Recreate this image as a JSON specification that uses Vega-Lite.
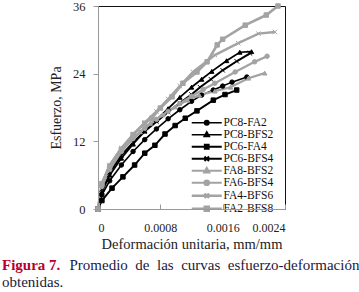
{
  "$schema": "https://vega.github.io/schema/vega-lite/v6.json",
  "autosize": "none",
  "width": 187,
  "height": 203,
  "padding": {"left": 98, "top": 6, "right": 74, "bottom": 83},
  "background": "white",
  "config": {
    "view": {"stroke": "#111", "strokeWidth": 1},
    "font": "Liberation Serif",
    "legend": {"orient": "none", "legendX": 103, "legendY": 111, "title": null, "padding": 0,
      "labelFont": "Liberation Serif", "labelFontSize": 11.5, "labelColor": "#111",
      "symbolSize": 25, "labelOffset": 11, "rowPadding": -5.3}
  },
  "title": {
    "text": "Figura 7.",
    "subtitle": ["\u200b\u00a0\u00a0\u00a0\u00a0\u00a0\u00a0\u00a0\u00a0\u00a0\u00a0\u00a0\u00a0\u00a0\u00a0\u00a0\u00a0\u00a0\u00a0Promedio \u00a0de \u00a0las \u00a0curvas \u00a0esfuerzo-deformación", "obtenidas."],
    "orient": "bottom",
    "anchor": "start",
    "frame": "group",
    "dx": -96,
    "offset": 7,
    "font": "Liberation Serif",
    "fontSize": 15,
    "fontWeight": "bold",
    "color": "#b8002a",
    "subtitleFont": "Liberation Serif",
    "subtitleFontSize": 15,
    "subtitleFontWeight": "normal",
    "subtitleColor": "#1a1a3c",
    "subtitleLineHeight": 17.5,
    "subtitlePadding": -15
  },
  "data": {"values": [
    {"s":"PC8-FA2","x":0,"y":0},{"s":"PC8-FA2","x":0.00005,"y":2.5},{"s":"PC8-FA2","x":0.00015,"y":5},{"s":"PC8-FA2","x":0.0003,"y":7.8},{"s":"PC8-FA2","x":0.00045,"y":10.2},{"s":"PC8-FA2","x":0.0006,"y":12.3},{"s":"PC8-FA2","x":0.00075,"y":14.2},{"s":"PC8-FA2","x":0.0009,"y":16},{"s":"PC8-FA2","x":0.00105,"y":17.6},{"s":"PC8-FA2","x":0.0012,"y":19.1},{"s":"PC8-FA2","x":0.00133,"y":20.2},{"s":"PC8-FA2","x":0.00148,"y":21.1},{"s":"PC8-FA2","x":0.0016,"y":21.8},{"s":"PC8-FA2","x":0.00172,"y":22.5},{"s":"PC8-FA2","x":0.00191,"y":23.4},
    {"s":"PC8-BFS2","x":0,"y":0},{"s":"PC8-BFS2","x":0.00005,"y":3},{"s":"PC8-BFS2","x":0.00015,"y":6},{"s":"PC8-BFS2","x":0.0003,"y":9},{"s":"PC8-BFS2","x":0.00045,"y":11.5},{"s":"PC8-BFS2","x":0.0006,"y":13.8},{"s":"PC8-BFS2","x":0.00075,"y":15.8},{"s":"PC8-BFS2","x":0.0009,"y":17.8},{"s":"PC8-BFS2","x":0.00105,"y":19.8},{"s":"PC8-BFS2","x":0.0012,"y":21.6},{"s":"PC8-BFS2","x":0.00133,"y":23},{"s":"PC8-BFS2","x":0.00146,"y":24.4},{"s":"PC8-BFS2","x":0.00165,"y":26.3},{"s":"PC8-BFS2","x":0.00182,"y":27.8},{"s":"PC8-BFS2","x":0.00197,"y":27.9},
    {"s":"PC6-FA4","x":0,"y":0},{"s":"PC6-FA4","x":0.00005,"y":1.5},{"s":"PC6-FA4","x":0.00018,"y":3.7},{"s":"PC6-FA4","x":0.00032,"y":5.7},{"s":"PC6-FA4","x":0.00047,"y":7.8},{"s":"PC6-FA4","x":0.0006,"y":9.9},{"s":"PC6-FA4","x":0.00073,"y":11.3},{"s":"PC6-FA4","x":0.00086,"y":13.3},{"s":"PC6-FA4","x":0.00099,"y":14.8},{"s":"PC6-FA4","x":0.00112,"y":16.1},{"s":"PC6-FA4","x":0.00127,"y":17.4},{"s":"PC6-FA4","x":0.00148,"y":19.3},{"s":"PC6-FA4","x":0.00163,"y":20.3},{"s":"PC6-FA4","x":0.00178,"y":21.1},
    {"s":"PC6-BFS4","x":0,"y":0},{"s":"PC6-BFS4","x":0.00005,"y":3.5},{"s":"PC6-BFS4","x":0.00015,"y":6.5},{"s":"PC6-BFS4","x":0.0003,"y":9.5},{"s":"PC6-BFS4","x":0.00045,"y":11.8},{"s":"PC6-BFS4","x":0.0006,"y":13.8},{"s":"PC6-BFS4","x":0.00075,"y":15.5},{"s":"PC6-BFS4","x":0.0009,"y":17.2},{"s":"PC6-BFS4","x":0.00105,"y":18.8},{"s":"PC6-BFS4","x":0.0012,"y":20.3},{"s":"PC6-BFS4","x":0.00131,"y":21.6},{"s":"PC6-BFS4","x":0.00145,"y":23},{"s":"PC6-BFS4","x":0.0016,"y":24.6},{"s":"PC6-BFS4","x":0.00178,"y":26.2},{"s":"PC6-BFS4","x":0.00195,"y":27.6},
    {"s":"FA8-BFS2","x":0,"y":0},{"s":"FA8-BFS2","x":0.00005,"y":4.6},{"s":"FA8-BFS2","x":0.00015,"y":7.8},{"s":"FA8-BFS2","x":0.00026,"y":9.9},{"s":"FA8-BFS2","x":0.00041,"y":12.2},{"s":"FA8-BFS2","x":0.00054,"y":13.7},{"s":"FA8-BFS2","x":0.00067,"y":15.2},{"s":"FA8-BFS2","x":0.00083,"y":16.7},{"s":"FA8-BFS2","x":0.00099,"y":18.1},{"s":"FA8-BFS2","x":0.00115,"y":19.3},{"s":"FA8-BFS2","x":0.0013,"y":20.2},{"s":"FA8-BFS2","x":0.0015,"y":20.9},{"s":"FA8-BFS2","x":0.0017,"y":21.6},{"s":"FA8-BFS2","x":0.00193,"y":23.2},{"s":"FA8-BFS2","x":0.00214,"y":24.1},
    {"s":"FA6-BFS4","x":0,"y":0},{"s":"FA6-BFS4","x":0.00005,"y":4},{"s":"FA6-BFS4","x":0.00015,"y":7},{"s":"FA6-BFS4","x":0.0003,"y":10.2},{"s":"FA6-BFS4","x":0.00045,"y":12.5},{"s":"FA6-BFS4","x":0.0006,"y":14.3},{"s":"FA6-BFS4","x":0.00075,"y":15.9},{"s":"FA6-BFS4","x":0.0009,"y":17.3},{"s":"FA6-BFS4","x":0.00105,"y":18.7},{"s":"FA6-BFS4","x":0.0012,"y":20},{"s":"FA6-BFS4","x":0.00135,"y":21.2},{"s":"FA6-BFS4","x":0.0015,"y":22.3},{"s":"FA6-BFS4","x":0.00176,"y":24.3},{"s":"FA6-BFS4","x":0.00201,"y":26.1},{"s":"FA6-BFS4","x":0.00217,"y":27.1},
    {"s":"FA4-BFS6","x":0,"y":0},{"s":"FA4-BFS6","x":0.00005,"y":4.5},{"s":"FA4-BFS6","x":0.00015,"y":7.8},{"s":"FA4-BFS6","x":0.0003,"y":10.8},{"s":"FA4-BFS6","x":0.00045,"y":13.2},{"s":"FA4-BFS6","x":0.0006,"y":15.3},{"s":"FA4-BFS6","x":0.00075,"y":17.3},{"s":"FA4-BFS6","x":0.0009,"y":19.5},{"s":"FA4-BFS6","x":0.00105,"y":21.8},{"s":"FA4-BFS6","x":0.00122,"y":24.3},{"s":"FA4-BFS6","x":0.0015,"y":27.3},{"s":"FA4-BFS6","x":0.0018,"y":29.4},{"s":"FA4-BFS6","x":0.00206,"y":31.1},{"s":"FA4-BFS6","x":0.00227,"y":31.4},
    {"s":"FA2-BFS8","x":0,"y":0},{"s":"FA2-BFS8","x":0.00005,"y":4.5},{"s":"FA2-BFS8","x":0.00015,"y":7.6},{"s":"FA2-BFS8","x":0.0003,"y":10.6},{"s":"FA2-BFS8","x":0.00045,"y":13.2},{"s":"FA2-BFS8","x":0.0006,"y":15.2},{"s":"FA2-BFS8","x":0.00069,"y":16.1},{"s":"FA2-BFS8","x":0.0008,"y":17.9},{"s":"FA2-BFS8","x":0.00095,"y":19.9},{"s":"FA2-BFS8","x":0.00109,"y":22.3},{"s":"FA2-BFS8","x":0.00127,"y":24.3},{"s":"FA2-BFS8","x":0.0014,"y":26.1},{"s":"FA2-BFS8","x":0.00153,"y":29.1},{"s":"FA2-BFS8","x":0.0016,"y":30.1},{"s":"FA2-BFS8","x":0.00189,"y":32.6},{"s":"FA2-BFS8","x":0.00216,"y":34.4},{"s":"FA2-BFS8","x":0.00231,"y":36}
  ]},
  "encoding": {
    "x": {"field": "x", "type": "quantitative",
      "scale": {"domain": [0, 0.0024], "nice": false, "zero": false},
      "axis": {"title": "Deformación unitaria, mm/mm", "values": [0, 0.0008, 0.0016, 0.0024], "format": "~g",
        "grid": false, "domainColor": "#999", "tickColor": "#999", "tickSize": -5, "labelPadding": 18,
        "labelFont": "Liberation Serif", "labelFontSize": 12, "labelColor": "#222",
        "titleFont": "Liberation Serif", "titleFontSize": 14.5, "titleFontWeight": "normal", "titleColor": "#222", "titlePadding": 4, "zindex": 1}},
    "y": {"field": "y", "type": "quantitative",
      "scale": {"domain": [0, 36], "nice": false},
      "axis": {"title": "Esfuerzo, MPa", "values": [0, 12, 24, 36], "grid": false,
        "domainColor": "#999", "tickColor": "#999", "tickSize": 5, "labelPadding": 8,
        "labelFont": "Liberation Serif", "labelFontSize": 12.5, "labelColor": "#222",
        "titleFont": "Liberation Serif", "titleFontSize": 14, "titleFontWeight": "normal", "titleColor": "#222", "titlePadding": 9, "zindex": 1}}
  },
  "resolve": {"scale": {"color": "independent", "shape": "independent", "stroke": "independent", "strokeWidth": "independent"}},
  "layer": [
    {
      "mark": {"type": "line"},
      "encoding": {
        "color": {"field": "s", "type": "nominal", "legend": null,
          "scale": {"domain": ["PC8-FA2","PC8-BFS2","PC6-FA4","PC6-BFS4","FA8-BFS2","FA6-BFS4","FA4-BFS6","FA2-BFS8"],
                    "range": ["#000","#000","#000","#000","#a3a3a3","#a3a3a3","#a3a3a3","#a3a3a3"]}},
        "strokeWidth": {"field": "s", "type": "nominal", "legend": null,
          "scale": {"domain": ["PC8-FA2","PC8-BFS2","PC6-FA4","PC6-BFS4","FA8-BFS2","FA6-BFS4","FA4-BFS6","FA2-BFS8"],
                    "range": [1.6, 2.6, 1.8, 2.3, 1.5, 1.5, 1.5, 1.5]}}
      }
    },
    {
      "mark": {"type": "point", "filled": true, "size": 20, "strokeWidth": 1, "opacity": 1},
      "encoding": {
        "color": {"field": "s", "type": "nominal", "legend": null,
          "scale": {"domain": ["PC8-FA2","PC8-BFS2","PC6-FA4","PC6-BFS4","FA8-BFS2","FA6-BFS4","FA4-BFS6","FA2-BFS8"],
                    "range": ["#000","#000","#000","#000","#a3a3a3","#a3a3a3","#a3a3a3","#a3a3a3"]}},
        "stroke": {"field": "s", "type": "nominal", "legend": null,
          "scale": {"domain": ["PC8-FA2","PC8-BFS2","PC6-FA4","PC6-BFS4","FA8-BFS2","FA6-BFS4","FA4-BFS6","FA2-BFS8"],
                    "range": ["#000","#000","#000","#000","#a3a3a3","#a3a3a3","#a3a3a3","#a3a3a3"]}},
        "shape": {"field": "s", "type": "nominal", "legend": null,
          "scale": {"domain": ["PC8-FA2","PC8-BFS2","PC6-FA4","PC6-BFS4","FA8-BFS2","FA6-BFS4","FA4-BFS6","FA2-BFS8"],
                    "range": ["circle","triangle-up","square","M-1,-1L1,1M-1,1L1,-1","triangle-up","circle","M-1,-1L1,1M-1,1L1,-1","square"]}}
      }
    },
    {
      "transform": [{"filter": "datum.x < 0"}],
      "mark": {"type": "point", "filled": true, "size": 25, "opacity": 1},
      "encoding": {
        "color": {"field": "s", "type": "nominal",
          "scale": {"domain": ["PC8-FA2","PC8-BFS2","PC6-FA4","PC6-BFS4","FA8-BFS2","FA6-BFS4","FA4-BFS6","FA2-BFS8"],
                    "range": ["#000","#000","#000","#000","#a3a3a3","#a3a3a3","#a3a3a3","#a3a3a3"]}},
        "stroke": {"field": "s", "type": "nominal",
          "scale": {"domain": ["PC8-FA2","PC8-BFS2","PC6-FA4","PC6-BFS4","FA8-BFS2","FA6-BFS4","FA4-BFS6","FA2-BFS8"],
                    "range": ["#000","#000","#000","#000","#a3a3a3","#a3a3a3","#a3a3a3","#a3a3a3"]}},
        "strokeWidth": {"field": "s", "type": "nominal",
          "scale": {"domain": ["PC8-FA2","PC8-BFS2","PC6-FA4","PC6-BFS4","FA8-BFS2","FA6-BFS4","FA4-BFS6","FA2-BFS8"],
                    "range": [1.5, 2.5, 1.6, 2.3, 1.5, 1.5, 1.5, 1.5]}},
        "shape": {"field": "s", "type": "nominal",
          "scale": {"domain": ["PC8-FA2","PC8-BFS2","PC6-FA4","PC6-BFS4","FA8-BFS2","FA6-BFS4","FA4-BFS6","FA2-BFS8"],
                    "range": ["M-6,0H6M0.9,0A0.9,0.9,0,1,1,-0.9,0A0.9,0.9,0,1,1,0.9,0Z","M-6,0H6M0,-1.1L1,0.7H-1Z","M-6,0H6M-0.8,-0.8H0.8V0.8H-0.8Z","M-6,0H6M-0.9,-0.9L0.9,0.9M-0.9,0.9L0.9,-0.9","M-6,0H6M0,-1.1L1,0.7H-1Z","M-6,0H6M0.9,0A0.9,0.9,0,1,1,-0.9,0A0.9,0.9,0,1,1,0.9,0Z","M-6,0H6M-0.9,-0.9L0.9,0.9M-0.9,0.9L0.9,-0.9","M-6,0H6M-0.8,-0.8H0.8V0.8H-0.8Z"]}}
      }
    }
  ]
}
